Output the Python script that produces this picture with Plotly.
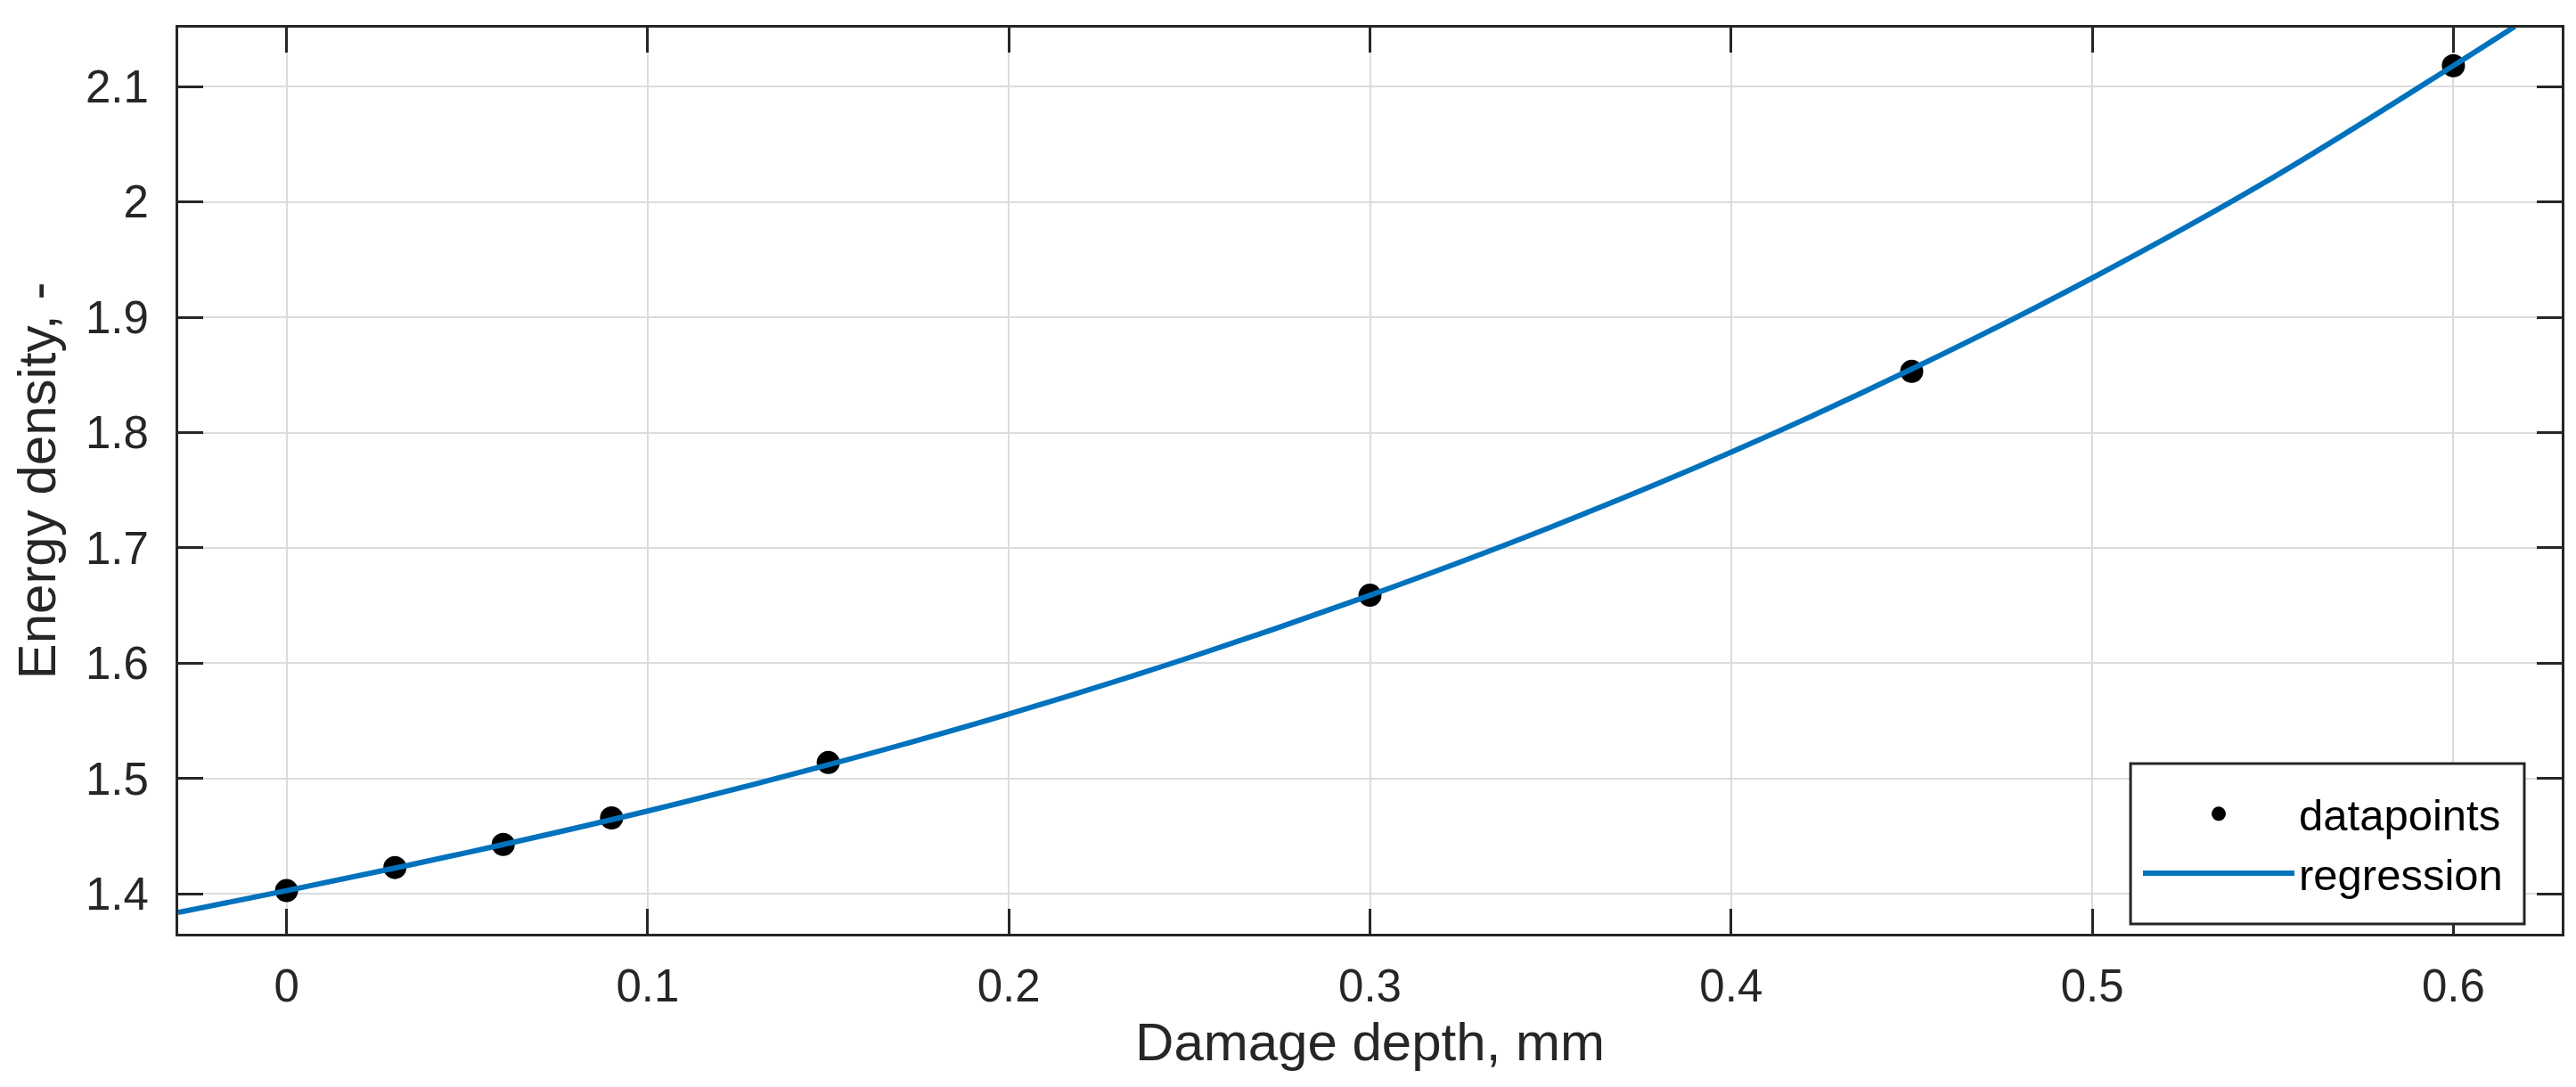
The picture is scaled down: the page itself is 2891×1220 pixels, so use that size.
import plotly.graph_objects as go

# measured points
depth_mm = [0.0, 0.03, 0.06, 0.09, 0.15, 0.30, 0.45, 0.60]
energy_density = [1.403, 1.423, 1.443, 1.466, 1.514, 1.659, 1.853, 2.118]

# regression curve
reg_depth = [-0.03, 0.0, 0.05, 0.10, 0.15, 0.20, 0.25, 0.30, 0.35, 0.40, 0.45, 0.50, 0.55, 0.60, 0.617]
reg_energy = [1.384, 1.403, 1.436, 1.472, 1.512, 1.556, 1.605, 1.659, 1.718, 1.783, 1.855, 1.934, 2.021, 2.118, 2.152]

x_ticks = [0, 0.1, 0.2, 0.3, 0.4, 0.5, 0.6]
x_tick_labels = ['0', '0.1', '0.2', '0.3', '0.4', '0.5', '0.6']
y_ticks = [1.4, 1.5, 1.6, 1.7, 1.8, 1.9, 2.0, 2.1]
y_tick_labels = ['1.4', '1.5', '1.6', '1.7', '1.8', '1.9', '2', '2.1']

ink = '#262626'
font_family = 'Liberation Sans, Arial, Helvetica, sans-serif'

fig = go.Figure()

fig.add_scatter(x=depth_mm,
                y=energy_density,
                mode='markers',
                marker=dict(color='black', size=26, symbol='circle'),
                name='datapoints')

fig.add_scatter(x=reg_depth,
                y=reg_energy,
                mode='lines',
                line=dict(color='#0072BD', width=6, shape='spline'),
                name='regression')

axis_common = dict(showline=True,
                   linecolor=ink,
                   linewidth=3,
                   mirror='ticks',
                   ticks='inside',
                   ticklen=28,
                   tickwidth=3,
                   tickcolor=ink,
                   showgrid=True,
                   gridcolor='#dcdcdc',
                   gridwidth=2,
                   zeroline=False,
                   tickfont=dict(family=font_family, size=51, color=ink),
                   automargin=False)

fig.update_xaxes(range=[-0.03, 0.63],
                 tickvals=x_ticks,
                 ticktext=x_tick_labels,
                 ticklabelstandoff=12,
                 title=dict(text='Damage depth, mm',
                            font=dict(family=font_family, size=60, color=ink),
                            standoff=14),
                 **axis_common)

fig.update_yaxes(range=[1.3656, 2.151],
                 tickvals=y_ticks,
                 ticktext=y_tick_labels,
                 ticklabelstandoff=20,
                 title=dict(text='Energy density, -',
                            font=dict(family=font_family, size=60, color=ink),
                            standoff=18),
                 **axis_common)

# legend frame drawn as a paper-space box, the legend itself sits inside it
fig.add_shape(type='rect', xref='paper', yref='paper',
              x0=0.8191, x1=0.9843, y0=0.0108, y1=0.1878,
              line=dict(color=ink, width=3), fillcolor='white', layer='above')

fig.update_layout(width=2891,
                  height=1220,
                  margin=dict(l=192, r=24, t=23, b=180),
                  paper_bgcolor='white',
                  plot_bgcolor='white',
                  showlegend=True,
                  legend=dict(x=0.9772,
                              y=0.0993,
                              xanchor='right',
                              yanchor='middle',
                              bgcolor='rgba(0,0,0,0)',
                              borderwidth=0,
                              itemwidth=170,
                              tracegroupgap=0,
                              font=dict(family=font_family, size=49, color='black')))

fig.write_html("out.html")
